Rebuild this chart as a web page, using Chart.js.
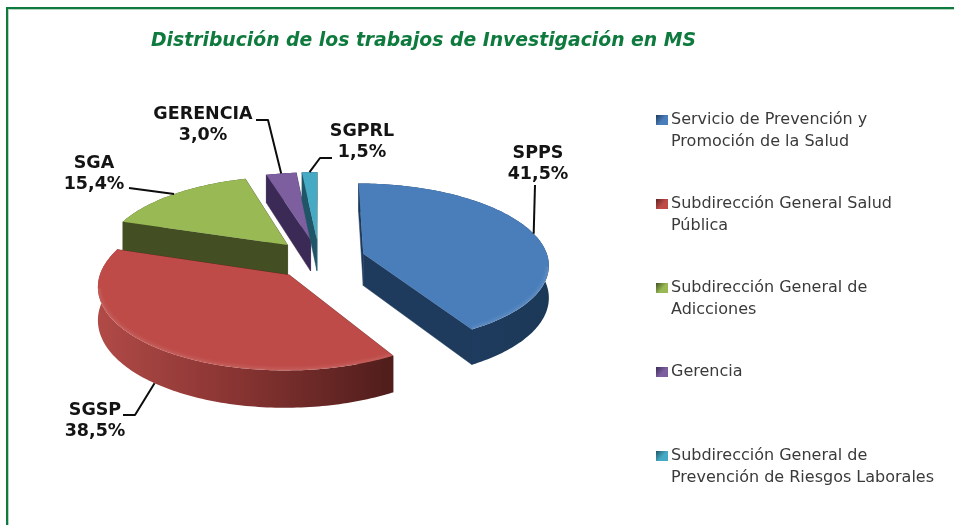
<!DOCTYPE html>
<html>
<head>
<meta charset="utf-8">
<style>
html,body{margin:0;padding:0;background:#fff;width:954px;height:525px;overflow:hidden}
#frame{position:absolute;left:6px;top:7px;right:0;bottom:0;border-left:2px solid #0e7a3e;border-top:2px solid #0e7a3e;box-shadow:inset 1px 1px 0 #b9d4c3}
#c{position:absolute;left:0;top:0;filter:blur(0.45px)}
</style>
<script src="https://cdn.jsdelivr.net/npm/chart.js@4"></script>
</head>
<body>
<div id="frame"></div>
<canvas id="c" width="954" height="525"></canvas>
<script>
const titleText = "Distribución de los trabajos de Investigación en MS";
const categories = ["SPPS", "SGSP", "SGA", "GERENCIA", "SGPRL"];
const values = [41.5, 38.5, 15.4, 3.0, 1.5];
const legendLines = [
  ["Servicio de Prevención y", "Promoción de la Salud"],
  ["Subdirección General Salud", "Pública"],
  ["Subdirección General de", "Adicciones"],
  ["Gerencia", ""],
  ["Subdirección General de", "Prevención de Riesgos Laborales"]
];
const topColors = ["#4a7ebb", "#be4b48", "#98b954", "#7d5fa0", "#46aac4"];
const sideColors = ["#1e3a5c", "#5e2321", "#434f22", "#3a2a55", "#1f5566"];
const rimStops = [
  ["#1c3857", "#1f3d62", "#1c3857"],
  ["#b04a47", "#8a3533", "#4f1d1b"],
  ["#434f22", "#434f22", "#434f22"],
  ["#3a2a55", "#3a2a55", "#3a2a55"],
  ["#1f5566", "#1f5566", "#1f5566"]
];
const drawOrder = [3, 4, 2, 0, 1];

// 3D view of the pie
const view = { explode: 0.25, perspective: 0.12, tilt: 0.432, depth: 32 };
// Callout layout: text centre, first-line y, and the leader's elbow chain
const callouts = [
  { cx: 538, y: 153, path: [[535, 185]] },
  { cx: 95,  y: 410, path: [[123, 415], [135, 415]], onWall: true },
  { cx: 94,  y: 163, path: [[129, 188]] },
  { cx: 203, y: 114, path: [[256, 120], [268, 120]] },
  { cx: 362, y: 131, path: [[332, 158], [320, 158]] }
];

function pct(v) { return v.toFixed(1).replace(".", ",") + "%"; }

function marker(i) {
  const m = document.createElement("canvas");
  m.width = 12; m.height = 10;
  const g = m.getContext("2d");
  const lg = g.createLinearGradient(0, 0, 12, 10);
  lg.addColorStop(0, sideColors[i]);
  lg.addColorStop(0.55, topColors[i]);
  lg.addColorStop(1, topColors[i]);
  g.fillStyle = lg;
  g.fillRect(0, 0, 12, 10);
  return m;
}

function slicePoints(arc, h) {
  const R = arc.outerRadius, k = view.perspective, ty = R * view.tilt;
  const mid = (arc.startAngle + arc.endAngle) / 2;
  const ox = Math.cos(mid) * view.explode, oy = -Math.sin(mid) * view.explode;
  const proj = (U, V) => {
    const s = 1 / (1 + k * V);
    return [arc.x + R * U * s, arc.y - ty * V * s + h * s];
  };
  const rim = [], front = [];
  const n = Math.max(4, Math.ceil((arc.endAngle - arc.startAngle) / 0.02));
  for (let j = 0; j <= n; j++) {
    const a = arc.startAngle + (arc.endAngle - arc.startAngle) * j / n;
    const p = proj(ox + Math.cos(a), oy - Math.sin(a));
    rim.push(p);
    if (Math.sin(a) > 0.15) front.push(p);
  }
  return { apex: proj(ox, oy), rim, front, midPt: proj(ox + Math.cos(mid), oy - Math.sin(mid)) };
}

function poly(ctx, pts) {
  ctx.beginPath();
  pts.forEach((p, i) => i ? ctx.lineTo(p[0], p[1]) : ctx.moveTo(p[0], p[1]));
  ctx.closePath();
}

const pie3d = {
  id: "pie3d",
  afterLayout(chart) {
    const a = chart.chartArea;
    a.left = 0; a.right = 638; a.top = 50; a.bottom = 468; a.width = 638; a.height = 418;
    const t = chart.titleBlock;
    t.left = 150; t.right = 697; t.top = 31;
    const l = chart.legend;
    l.left = 621; l.right = 954; l.top = 72; l.bottom = 525;
  },
  beforeDatasetDraw(chart, args) {
    const ctx = chart.ctx;
    const arcs = args.meta.data;
    drawOrder.forEach(i => {
      const arc = arcs[i];
      const T = slicePoints(arc, 0);
      const B = slicePoints(arc, view.depth);
      ctx.save();
      // radial walls
      ctx.fillStyle = sideColors[i];
      ctx.strokeStyle = sideColors[i];
      ctx.lineWidth = 0.5;
      [[T.apex, T.rim[0], B.rim[0], B.apex],
       [T.apex, T.rim[T.rim.length - 1], B.rim[B.rim.length - 1], B.apex]].forEach(q => {
        poly(ctx, q); ctx.fill(); ctx.stroke();
      });
      // outer wall
      const xs = T.rim.map(p => p[0]);
      const x0 = Math.min(...xs), x1 = Math.max(...xs);
      const lg = ctx.createLinearGradient(x0, 0, x1, 0);
      lg.addColorStop(0, rimStops[i][0]);
      lg.addColorStop(0.45, rimStops[i][1]);
      lg.addColorStop(1, rimStops[i][2]);
      ctx.fillStyle = lg;
      poly(ctx, T.rim.concat(B.rim.slice().reverse()));
      ctx.fill();
      // top face
      const face = [T.apex].concat(T.rim);
      ctx.fillStyle = topColors[i];
      poly(ctx, face); ctx.fill();
      // soft bevel along the front rim only
      if (T.front.length > 1) {
        ctx.save();
        poly(ctx, face); ctx.clip();
        [[9, 0.025], [6, 0.035], [3, 0.05]].forEach(b => {
          ctx.lineWidth = b[0];
          ctx.strokeStyle = "rgba(255,255,255," + b[1] + ")";
          ctx.beginPath();
          T.front.forEach((p, j) => j ? ctx.lineTo(p[0], p[1]) : ctx.moveTo(p[0], p[1]));
          ctx.stroke();
        });
        ctx.restore();
      }
      ctx.restore();
    });
    // callouts
    ctx.save();
    ctx.strokeStyle = "#0d0d0d";
    ctx.lineWidth = 2;
    ctx.lineJoin = "round";
    callouts.forEach((c, i) => {
      const end = slicePoints(arcs[i], c.onWall ? view.depth : 0).midPt;
      ctx.beginPath();
      c.path.forEach((p, j) => j ? ctx.lineTo(p[0], p[1]) : ctx.moveTo(p[0], p[1]));
      ctx.lineTo(end[0], end[1]);
      ctx.stroke();
    });
    ctx.fillStyle = "#141414";
    ctx.font = "bold 17.5px 'DejaVu Sans'";
    ctx.textAlign = "center";
    ctx.textBaseline = "middle";
    callouts.forEach((c, i) => {
      ctx.fillText(categories[i], c.cx, c.y);
      ctx.fillText(pct(values[i]), c.cx, c.y + 21);
    });
    ctx.restore();
    return false;
  }
};

new Chart(document.getElementById("c"), {
  type: "pie",
  plugins: [pie3d],
  data: {
    labels: categories,
    datasets: [{ data: values, backgroundColor: topColors, borderWidth: 0 }]
  },
  options: {
    responsive: false,
    animation: false,
    radius: 185,
    plugins: {
      tooltip: { enabled: false },
      title: {
        display: true,
        text: titleText,
        color: "#0e7a3e",
        padding: 0,
        font: { family: "'DejaVu Sans'", size: 18.8, weight: "bold", style: "italic", lineHeight: "20px" }
      },
      legend: {
        display: true,
        position: "right",
        align: "start",
        labels: {
          color: "#3a3a3a",
          padding: 40,
          usePointStyle: true,
          pointStyleWidth: 2,
          boxHeight: 10,
          font: { family: "'DejaVu Sans'", size: 16, lineHeight: "22px" },
          generateLabels() {
            return legendLines.map((text, i) => ({
              text,
              index: i,
              fontColor: "#3a3a3a",
              fillStyle: topColors[i],
              strokeStyle: topColors[i],
              lineWidth: 0,
              pointStyle: marker(i)
            }));
          }
        }
      }
    }
  }
});
</script>
</body>
</html>
